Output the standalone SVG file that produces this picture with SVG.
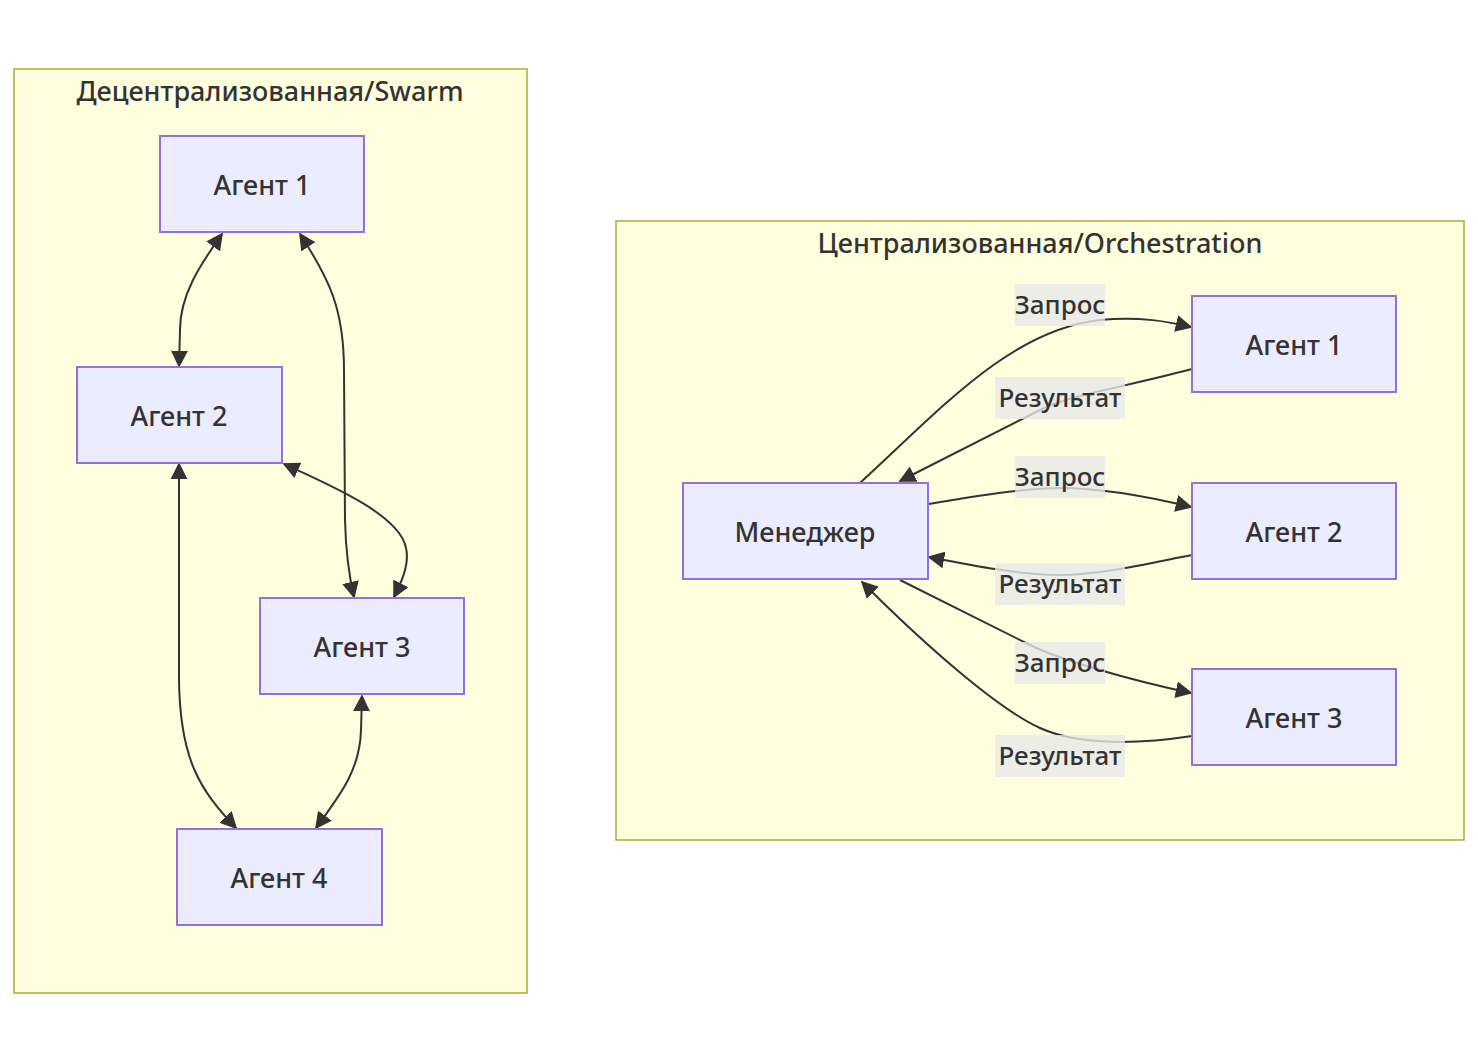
<svg xmlns="http://www.w3.org/2000/svg" width="1478" height="1062" viewBox="0 0 1478 1062">
<style>
.cluster{fill:#ffffde;stroke:#aaaa33;stroke-width:1.5}
.node rect{fill:#ececff;stroke:#9370db;stroke-width:2}
text{font-family:"Noto Sans","Liberation Sans",sans-serif;fill:#333;text-anchor:middle;dominant-baseline:central;font-weight:500}
.lbl{font-size:27px}
.elbl{font-size:26px}
.ctitle{font-size:27px}
.edge{fill:none;stroke:#333;stroke-width:2}
.bi{marker-start:url(#arr);marker-end:url(#arr)}
.one{marker-end:url(#arr)}
.elbg{fill:rgba(232,232,232,0.8)}
</style>
<defs>
<marker id="arr" viewBox="0 0 10 10" refX="9" refY="5" markerWidth="17" markerHeight="17" markerUnits="userSpaceOnUse" orient="auto-start-reverse">
<path d="M0,0 L10,5 L0,10 z" fill="#333"/>
</marker>
</defs>
<rect width="1478" height="1062" fill="#fff"/>
<g id="cluster-swarm">
<rect class="cluster" x="14" y="69" width="513" height="924"/>
<text class="ctitle" x="270" y="90">Децентрализованная/Swarm</text>
</g>
<g id="cluster-orch">
<rect class="cluster" x="616" y="221" width="848" height="619"/>
<text class="ctitle" x="1040" y="242">Централизованная/Orchestration</text>
</g>
<g id="connectors">
<path class="edge bi" d="M222,234 C200,265 180,295 180,330 L179,366"/>
<path class="edge bi" d="M300,234 C330,280 344,310 344,370 L345,520 C346,560 350,580 354,597"/>
<path class="edge bi" d="M284,464 C330,485 400,515 406,548 C410,565 400,585 394,597"/>
<path class="edge bi" d="M179,464 L179,680 C180,760 200,790 236,828"/>
<path class="edge bi" d="M362,696 L361,730 C360,770 340,795 316,828"/>
<path class="edge one" d="M860,483 C940,410 1010,330 1100,320 C1140,316 1170,322 1191,327"/>
<path class="edge one" d="M1192,369 C1120,388 1070,395 1040,410 L900,481"/>
<path class="edge one" d="M929,504 C980,495 1030,488 1060,488 C1100,488 1150,497 1191,507"/>
<path class="edge one" d="M1192,555 C1150,563 1100,575 1060,575 C1020,575 970,565 929,557"/>
<path class="edge one" d="M900,580 L1030,645 C1060,660 1130,680 1191,693"/>
<path class="edge one" d="M1192,736 C1140,744 1080,746 1040,728 C1000,710 930,650 862,582"/>
</g>
<g id="edge-labels">
<rect class="elbg" x="1015" y="284" width="90" height="42"/>
<text class="elbl" x="1060" y="304">Запрос</text>
<rect class="elbg" x="995" y="377" width="130" height="42"/>
<text class="elbl" x="1060" y="397">Результат</text>
<rect class="elbg" x="1015" y="456" width="90" height="42"/>
<text class="elbl" x="1060" y="476">Запрос</text>
<rect class="elbg" x="995" y="563" width="130" height="42"/>
<text class="elbl" x="1060" y="583">Результат</text>
<rect class="elbg" x="1015" y="642" width="90" height="42"/>
<text class="elbl" x="1060" y="662">Запрос</text>
<rect class="elbg" x="995" y="735" width="130" height="42"/>
<text class="elbl" x="1060" y="755">Результат</text>
</g>
<g id="swarm-a1" class="node"><rect x="160" y="136" width="204" height="96"/><text class="lbl" x="262" y="184">Агент 1</text></g>
<g id="swarm-a2" class="node"><rect x="77" y="367" width="205" height="96"/><text class="lbl" x="179" y="415">Агент 2</text></g>
<g id="swarm-a3" class="node"><rect x="260" y="598" width="204" height="96"/><text class="lbl" x="362" y="646">Агент 3</text></g>
<g id="swarm-a4" class="node"><rect x="177" y="829" width="205" height="96"/><text class="lbl" x="279" y="877">Агент 4</text></g>
<g id="orch-manager" class="node"><rect x="683" y="483" width="245" height="96"/><text class="lbl" x="805" y="531">Менеджер</text></g>
<g id="orch-a1" class="node"><rect x="1192" y="296" width="204" height="96"/><text class="lbl" x="1294" y="344">Агент 1</text></g>
<g id="orch-a2" class="node"><rect x="1192" y="483" width="204" height="96"/><text class="lbl" x="1294" y="531">Агент 2</text></g>
<g id="orch-a3" class="node"><rect x="1192" y="669" width="204" height="96"/><text class="lbl" x="1294" y="717">Агент 3</text></g>
</svg>
